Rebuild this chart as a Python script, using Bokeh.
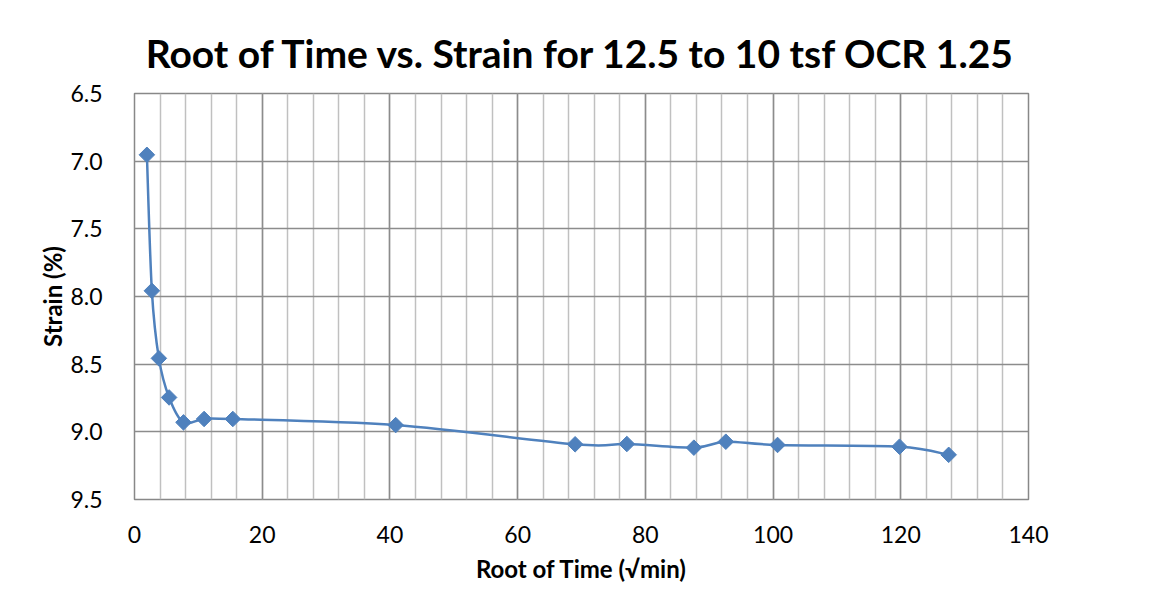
from bokeh.plotting import figure
from bokeh.models import Range1d, FixedTicker, NumeralTickFormatter
from bokeh.embed import file_html
from bokeh.resources import INLINE

root_time = [1.94, 2.72, 3.82, 5.42, 7.67, 10.9, 15.4, 40.9, 69.0, 77.1, 87.6, 92.6, 100.7, 119.8, 127.5]
strain = [6.953, 7.958, 8.457, 8.746, 8.93, 8.905, 8.905, 8.95, 9.092, 9.09, 9.117, 9.073, 9.097, 9.11, 9.17]

x_ticks = [0, 20, 40, 60, 80, 100, 120, 140]
x_minor = list(range(0, 141, 4))
y_ticks = [6.5, 7.0, 7.5, 8.0, 8.5, 9.0, 9.5]

FONT = "Lato"
LINE_COLOR = "#4F81BD"

p = figure(width=1150, height=595, output_backend="svg", toolbar_location=None,
           x_range=Range1d(0, 140), y_range=Range1d(9.5, 6.5),
           min_border_left=134, min_border_right=122, min_border_top=93, min_border_bottom=96,
           title="Root of Time vs. Strain for 12.5 to 10 tsf OCR 1.25")

p.title.align = "center"
p.title.text_font = FONT
p.title.text_font_size = "39px"
p.title.text_font_style = "bold"
p.title.text_color = "#000000"
p.title.standoff = 36

p.outline_line_color = "#888888"
p.outline_line_width = 1.5

# axes
p.xaxis.ticker = FixedTicker(ticks=x_ticks, minor_ticks=x_minor)
p.yaxis.ticker = FixedTicker(ticks=y_ticks)
p.yaxis.formatter = NumeralTickFormatter(format="0.0")
for ax in (p.xaxis, p.yaxis):
    ax.axis_line_color = None
    ax.major_tick_line_color = None
    ax.minor_tick_line_color = None
    ax.major_label_text_font = FONT
    ax.major_label_text_font_size = "23px"
    ax.major_label_text_color = "#000000"
    ax.axis_label_text_font = FONT
    ax.axis_label_text_font_size = "24px"
    ax.axis_label_text_font_style = "bold"
    ax.axis_label_text_color = "#000000"
p.xaxis.axis_label = "Root of Time (\u221amin)"
p.yaxis.axis_label = "Strain (%)"
p.xaxis.major_label_standoff = 20
p.yaxis.major_label_standoff = 26
p.xaxis.axis_label_standoff = 8
p.yaxis.axis_label_standoff = 0

# grids
p.xgrid.grid_line_color = "#8c8c8c"
p.xgrid.grid_line_width = 1.5
p.xgrid.minor_grid_line_color = "#c0c0c0"
p.xgrid.minor_grid_line_width = 1.5
p.ygrid.grid_line_color = "#8c8c8c"
p.ygrid.grid_line_width = 1.5

# smoothed line (Catmull-Rom -> cubic Bezier segments computed from the data)
n = len(root_time)
x0s, y0s, x1s, y1s, cx0, cy0, cx1, cy1 = [], [], [], [], [], [], [], []
for i in range(n - 1):
    xa, ya = root_time[i], strain[i]
    xb, yb = root_time[i + 1], strain[i + 1]
    xp, yp = (root_time[i - 1], strain[i - 1]) if i > 0 else (xa, ya)
    xn, yn = (root_time[i + 2], strain[i + 2]) if i + 2 < n else (xb, yb)
    x0s.append(xa); y0s.append(ya); x1s.append(xb); y1s.append(yb)
    cx0.append(xa + (xb - xp) / 6.0); cy0.append(ya + (yb - yp) / 6.0)
    cx1.append(xb - (xn - xa) / 6.0); cy1.append(yb - (yn - ya) / 6.0)

p.bezier(x0=x0s, y0=y0s, x1=x1s, y1=y1s, cx0=cx0, cy0=cy0, cx1=cx1, cy1=cy1,
         line_color=LINE_COLOR, line_width=2.5)
p.scatter(root_time, strain, marker="square", size=11, angle=0.785398,
          fill_color=LINE_COLOR, line_color=LINE_COLOR)

open("out.html", "w").write(file_html(p, INLINE))
